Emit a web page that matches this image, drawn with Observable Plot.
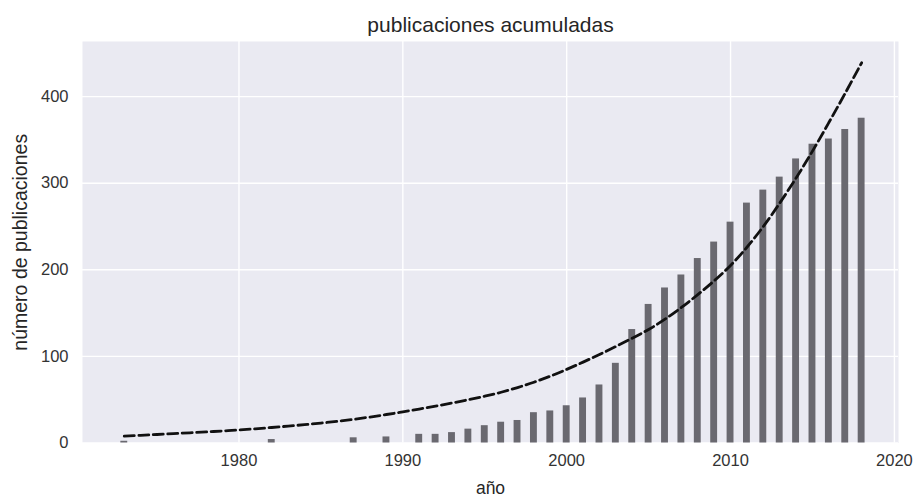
<!DOCTYPE html>
<html>
<head>
<meta charset="utf-8">
<script src="https://cdn.jsdelivr.net/npm/d3@7"></script>
<script src="https://cdn.jsdelivr.net/npm/@observablehq/plot@0.6"></script>
<style>
  html, body { margin: 0; padding: 0; background: #ffffff; }
  #chart svg { display: block; }
</style>
</head>
<body>
<div id="chart"></div>
<script>
// Cumulative publication counts per year
const years = [1973, 1982, 1987, 1989, 1991, 1992, 1993, 1994, 1995, 1996, 1997, 1998, 1999,
  2000, 2001, 2002, 2003, 2004, 2005, 2006, 2007, 2008, 2009, 2010, 2011, 2012, 2013,
  2014, 2015, 2016, 2017, 2018];
const counts = [2, 4, 6, 7, 10, 10, 12, 16, 20, 24, 26, 35, 37,
  43, 52, 67, 92, 131, 160, 179, 194, 213, 232, 255, 277, 292, 307,
  328, 345, 351, 362, 375];

// Fitted growth curve (dashed)
const trendYears = [1973, 1974, 1975, 1976, 1977, 1978, 1979, 1980, 1981, 1982, 1983, 1984,
  1985, 1986, 1987, 1988, 1989, 1990, 1991, 1992, 1993, 1994, 1995, 1996, 1997, 1998, 1999,
  2000, 2001, 2002, 2003, 2004, 2005, 2006, 2007, 2008, 2009, 2010, 2011, 2012, 2013, 2014,
  2015, 2016, 2017, 2018];
const trendValues = [8, 8.9, 9.8, 10.8, 11.8, 12.8, 13.9, 15, 16.4, 17.9, 19.5, 21.2,
  23, 25, 27.3, 30, 32.9, 36, 39.2, 42.6, 46.2, 50, 54, 58.6, 64, 70.2, 77.2,
  85, 93.4, 102.2, 111.4, 121, 131, 143, 156.5, 171.3, 187.3, 205, 226, 250, 277, 306,
  337, 370, 404, 439];

// Axis ticks
const xTicks = [1980, 1990, 2000, 2010, 2020];
const yTicks = [0, 100, 200, 300, 400];

const titleText = "publicaciones acumuladas";
const xLabel = "año";
const yLabel = "número de publicaciones";

const bars = years.map((year, i) => ({year, value: counts[i]}));
const trend = trendYears.map((year, i) => ({year, value: trendValues[i]}));

const barHalfWidth = 0.21;
const textColor = "#333333";

const chart = Plot.plot({
  width: 918,
  height: 497,
  marginLeft: 82,
  marginRight: 20,
  marginTop: 41,
  marginBottom: 54.5,
  style: {
    fontFamily: "'Liberation Sans', Arial, sans-serif",
    fontSize: "16.5px",
    color: textColor,
    background: "#ffffff",
    overflow: "visible"
  },
  x: {domain: [1970.45, 2020.25]},
  y: {domain: [0, 463.6]},
  marks: [
    Plot.frame({fill: "#EAEAF2", stroke: null}),
    Plot.gridX({ticks: xTicks, stroke: "#ffffff", strokeOpacity: 1, strokeWidth: 1.4}),
    Plot.gridY({ticks: yTicks, stroke: "#ffffff", strokeOpacity: 1, strokeWidth: 1.4}),
    Plot.rectY(bars, {
      x1: d => d.year - barHalfWidth,
      x2: d => d.year + barHalfWidth,
      y: "value",
      fill: "#6a6970"
    }),
    Plot.line(trend, {
      x: "year",
      y: "value",
      stroke: "#111111",
      strokeWidth: 2.8,
      strokeDasharray: "10,4.5",
      curve: "catmull-rom"
    }),
    Plot.axisX({
      ticks: xTicks,
      tickSize: 0,
      tickPadding: 11,
      tickFormat: d3.format("d"),
      label: null,
      fill: textColor
    }),
    Plot.axisY({
      ticks: yTicks,
      tickSize: 0,
      tickPadding: 14,
      tickFormat: d3.format("d"),
      label: null,
      fill: textColor
    }),
    Plot.text([titleText], {
      text: d => d,
      frameAnchor: "top",
      dy: -16,
      lineAnchor: "middle",
      textAnchor: "middle",
      fontSize: 21,
      fill: "#262626"
    }),
    Plot.text([xLabel], {
      text: d => d,
      frameAnchor: "bottom",
      dy: 45,
      lineAnchor: "middle",
      textAnchor: "middle",
      fontSize: 17.5,
      fill: "#262626"
    }),
    Plot.text([yLabel], {
      text: d => d,
      frameAnchor: "left",
      dx: -62,
      rotate: -90,
      lineAnchor: "middle",
      textAnchor: "middle",
      fontSize: 19.5,
      fill: "#262626"
    })
  ]
});

document.getElementById("chart").appendChild(chart);
</script>
</body>
</html>
